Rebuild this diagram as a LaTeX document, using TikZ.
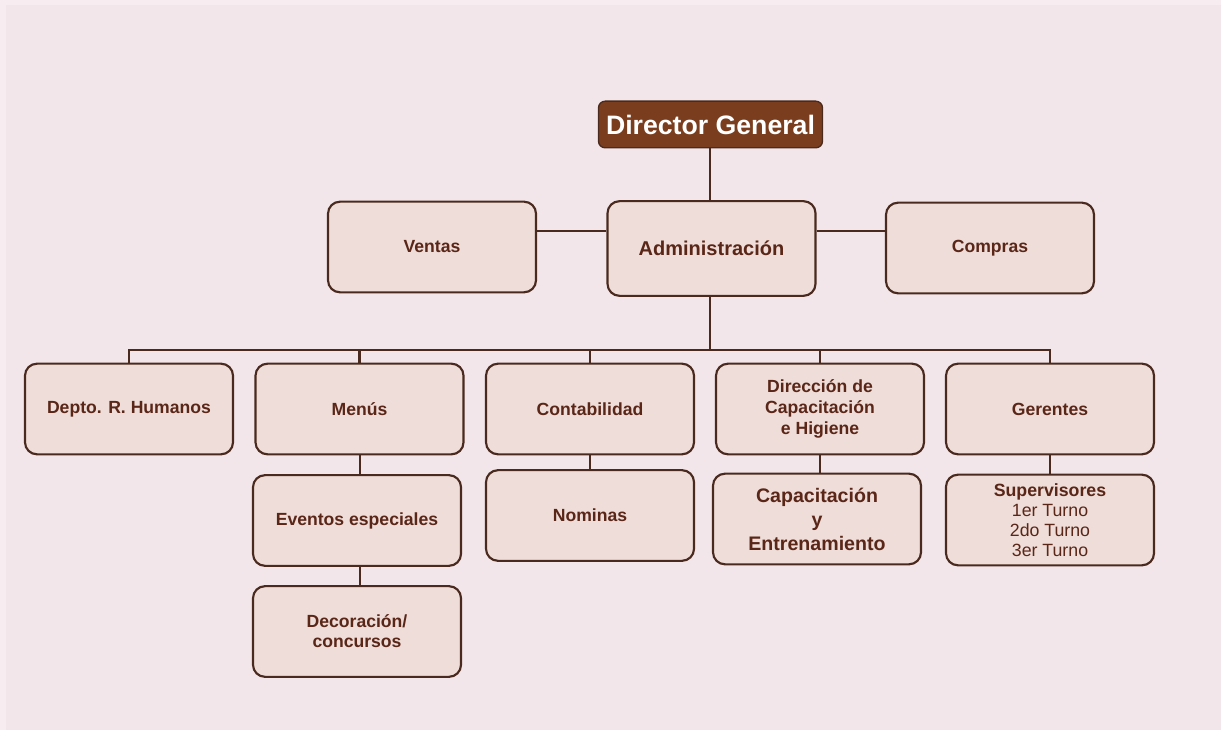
\documentclass[tikz,border=0pt]{standalone}
\usepackage{fontspec}
\setmainfont{Liberation Sans}
\definecolor{bg}{HTML}{F3E6EA}
\definecolor{boxfill}{HTML}{EEDDD8}
\definecolor{edge}{HTML}{4A2A1E}
\definecolor{txt}{HTML}{5A2618}
\definecolor{dirfill}{HTML}{7A3E1E}
\begin{document}
\begin{tikzpicture}[x=0.75pt,y=-0.75pt,
  unit/.style={draw=edge,fill=boxfill,line width=1.6pt,rounded corners=9pt,
    minimum width=156pt,minimum height=68pt,inner sep=2pt,align=center,
    text=txt,font=\bfseries\fontsize{13.2}{15}\selectfont},
  link/.style={draw=edge,line width=2.1pt}]
\fill[white!30!bg] (0,0) rectangle (1221,730);
\fill[bg] (6,5) rectangle (1221,730);
\useasboundingbox (0,0) rectangle (1221,730);
% top
\node[draw=edge,fill=dirfill,line width=1pt,rounded corners=5pt,minimum width=168pt,minimum height=35pt,
  text=white,font=\bfseries\fontsize{20}{24}\selectfont] (dg) at (710.5,124.5) {Director General};
\node[unit] (ventas) at (432,247) {Ventas};
\node[unit,minimum height=71pt,font=\bfseries\fontsize{15}{18}\selectfont] (adm) at (711.5,248.5) {Administración};
\node[unit] (compras) at (990,248) {Compras};
% row 2
\node[unit] (rh) at (129,409) {Depto. R. Humanos};
\node[unit] (menus) at (359.5,409) {Menús};
\node[unit] (cont) at (590,409) {Contabilidad};
\node[unit,font=\bfseries\fontsize{13.2}{15.8}\selectfont] (dir) at (820,409) {Dirección de\\Capacitación\\e Higiene};
\node[unit] (ger) at (1050,409) {Gerentes};
% row 3
\node[unit] (evt) at (357,520.5) {Eventos especiales};
\node[unit] (nom) at (590,515.5) {Nominas};
\node[unit,font=\bfseries\fontsize{14.7}{18}\selectfont] (cap) at (817,519) {Capacitación\\y\\Entrenamiento};
\node[unit,font=\fontsize{13.3}{15}\selectfont] (sup) at (1050,520) {\textbf{Supervisores}\\1er Turno\\2do Turno\\3er Turno};
% row 4
\node[unit] (dec) at (357,631.5) {Decoración/\\concursos};
% connectors
\draw[link] (dg.south -| 710,0) -- (adm.north -| 710,0);
\draw[link] (ventas.east |- 0,231) -- (adm.west |- 0,231);
\draw[link] (adm.east |- 0,231) -- (compras.west |- 0,231);
\coordinate (bus) at (710,350);
\draw[link] (adm.south -| bus) -- (bus);
\draw[link] (rh.north) |- (bus) -| (ger.north);
\draw[link] (menus.north) -- (menus.north |- bus);
\draw[link] (cont.north) -- (cont.north |- bus);
\draw[link] (dir.north) -- (dir.north |- bus);
\draw[link] (menus.south -| 360,0) -- (evt.north -| 360,0);
\draw[link] (evt.south -| 360,0) -- (dec.north -| 360,0);
\draw[link] (cont.south) -- (nom.north);
\draw[link] (dir.south) -- (dir.south |- cap.north);
\draw[link] (ger.south) -- (sup.north);
\end{tikzpicture}
\end{document}
